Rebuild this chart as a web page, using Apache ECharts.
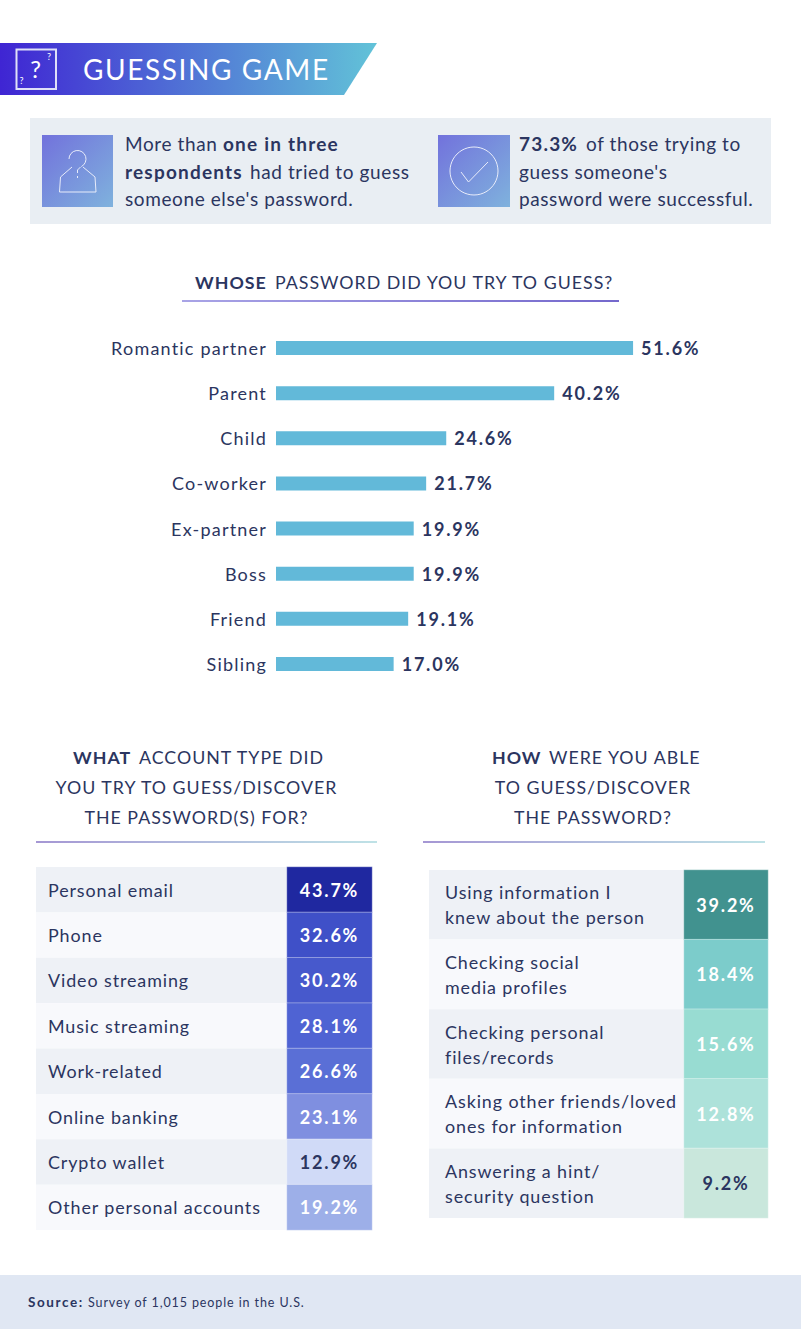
<!DOCTYPE html>
<html>
<head>
<meta charset="utf-8">
<title>Guessing Game</title>
<script src="https://cdn.jsdelivr.net/npm/echarts@6/dist/echarts.min.js"></script>
<style>
	html, body { margin: 0; padding: 0; background: #fff; }
	#main { width: 801px; height: 1329px; }
	/* echarts has no tracking option, the svg text takes it from css */
	#main text { letter-spacing: 1px; }
	#main text[style*="28px"] { letter-spacing: 1.6px; }
	#main text[style*="19px"] { letter-spacing: 0.6px; }
	#main text[style*="19px"][style*="700"], #main text[style*="bold"][style*="19px"] { letter-spacing: 1.2px; }
	#main text[style*="18px"] { letter-spacing: 1.2px; }
	#main text[style*="17.9px"] { letter-spacing: 0.9px; }
	#main text[style*="18px"][style*="700"], #main text[style*="bold"][style*="18px"] { letter-spacing: 1.8px; }
	#main text[style*="12.5px"] { letter-spacing: 0.9px; }
	#main text[style*="13.5px"] { letter-spacing: 1.6px; }
</style>
</head>
<body>
<div id="main"></div>
<script>
	var whoNames = ['Romantic partner', 'Parent', 'Child', 'Co-worker', 'Ex-partner', 'Boss', 'Friend', 'Sibling'];
	var whoValues = [51.6, 40.2, 24.6, 21.7, 19.9, 19.9, 19.1, 17.0];

	var accountNames = ['Personal email', 'Phone', 'Video streaming', 'Music streaming', 'Work-related', 'Online banking', 'Crypto wallet', 'Other personal accounts'];
	var accountValues = [43.7, 32.6, 30.2, 28.1, 26.6, 23.1, 12.9, 19.2];
	var accountColors = ['#1f28a0', '#3f50c8', '#4759cc', '#4f63d3', '#5a6fd6', '#7f8fe0', '#d0daf7', '#9dafe8'];

	var methodNames = ['Using information I\nknew about the person', 'Checking social\nmedia profiles', 'Checking personal\nfiles/records', 'Asking other friends/loved\nones for information', 'Answering a hint/\nsecurity question'];
	var methodValues = [39.2, 18.4, 15.6, 12.8, 9.2];
	var methodColors = ['#41928f', '#7ccccb', '#98dcd2', '#ade2da', '#c9e7dc'];

	var FONT = 'Lato';
	var NAVY = '#2b3560';
	var ICON = '#e8ecfa';

	var chart = echarts.init(document.getElementById('main'), null, {renderer: 'svg'});

	function txt(str, x, y, size, bold, color, align)
	{
		return {
			type: 'text',
			style: {
				x: x, y: y, text: str,
				fontFamily: FONT, fontSize: size, fontWeight: bold ? 700 : 400,
				fill: color || NAVY, align: align || 'left', verticalAlign: 'middle'
			}
		};
	}
	function grad(x2, y2, c1, c2)
	{
		return new echarts.graphic.LinearGradient(0, 0, x2, y2, [{offset: 0, color: c1}, {offset: 1, color: c2}]);
	}
	function rule(x, y, w, c1, c2)
	{
		return {type: 'rect', shape: {x: x, y: y, width: w, height: 2}, style: {fill: grad(1, 0, c1, c2)}};
	}
	function outline(points)
	{
		return {type: 'polyline', shape: {points: points}, style: {fill: 'none', stroke: ICON, lineWidth: 1}};
	}

	var decor = [
		// header
		{type: 'polygon', shape: {points: [[0, 43], [377, 43], [344, 95], [0, 95]]}, style: {fill: grad(1, 0, '#3f25d3', '#62c3d8')}},
		{type: 'rect', shape: {x: 16.5, y: 49.5, width: 39.5, height: 39.5}, style: {fill: 'none', stroke: '#dfe0f8', lineWidth: 2}},
		txt('?', 36, 68, 24, false, '#fff', 'center'),
		txt('?', 49.5, 56, 9, false, '#fff', 'center'),
		txt('?', 22, 80, 9, false, '#fff', 'center'),
		txt('GUESSING GAME', 83, 69, 28, false, '#fff'),

		// info panel
		{type: 'rect', shape: {x: 30, y: 118, width: 741, height: 106}, style: {fill: '#e9eef3'}},
		{type: 'rect', shape: {x: 42, y: 135, width: 71, height: 72}, style: {fill: grad(1, 1, '#7272dc', '#7fb2dd')}},
		{type: 'rect', shape: {x: 438, y: 135, width: 72, height: 72}, style: {fill: grad(1, 1, '#7272dc', '#7fb2dd')}},
		{type: 'arc', shape: {cx: 77.5, cy: 159, r: 8.5, startAngle: Math.PI, endAngle: Math.PI * 2.35, clockwise: true}, style: {fill: 'none', stroke: ICON, lineWidth: 1}},
		outline([[80.5, 167], [77.5, 170], [77.5, 173]]),
		outline([[77.5, 176], [77.5, 178]]),
		outline([[72, 167], [60.5, 177], [59.5, 192], [96, 192], [95, 177], [83, 167]]),
		{type: 'circle', shape: {cx: 474, cy: 171, r: 24}, style: {fill: 'none', stroke: ICON, lineWidth: 1}},
		outline([[461, 172], [468.5, 182], [488, 162]]),
		txt('More than', 125, 143, 19, false),
		txt('one in three', 223, 143, 19, true),
		txt('respondents', 125, 171, 19, true),
		txt('had tried to guess', 250, 171, 19, false),
		txt("someone else's password.", 125, 198, 19, false),
		txt('73.3%', 519, 143, 19, true),
		txt('of those trying to', 586, 143, 19, false),
		txt("guess someone's", 519, 171, 19, false),
		txt('password were successful.', 519, 198, 19, false),

		// section titles
		txt('WHOSE', 195, 282, 17.8, true),
		txt('PASSWORD DID YOU TRY TO GUESS?', 275, 282, 17.8, false),
		rule(182, 300, 437, '#a9a4e6', '#7468cc'),

		txt('WHAT', 73, 757, 17.8, true),
		txt('ACCOUNT TYPE DID', 139, 757, 17.8, false),
		txt('YOU TRY TO GUESS/DISCOVER', 196.5, 787, 17.8, false, NAVY, 'center'),
		txt('THE PASSWORD(S) FOR?', 196.5, 817, 17.8, false, NAVY, 'center'),
		rule(36, 841, 341, '#a597d4', '#bfe2e6'),

		txt('HOW', 492, 757, 17.8, true),
		txt('WERE YOU ABLE', 549, 757, 17.8, false),
		txt('TO GUESS/DISCOVER', 593, 787, 17.8, false, NAVY, 'center'),
		txt('THE PASSWORD?', 593, 817, 17.8, false, NAVY, 'center'),
		rule(423, 841, 342, '#a597d4', '#bfe2e6'),

		// footer
		{type: 'rect', shape: {x: 0, y: 1275, width: 801, height: 54}, style: {fill: '#e0e7f3'}},
		txt('Source:', 28, 1302, 13.5, true),
		txt('Survey of 1,015 people in the U.S.', 88, 1302, 12.5, false)
	];

	function labelAxis(gridIndex, names, margin)
	{
		return {
			gridIndex: gridIndex, type: 'category', inverse: true, data: names,
			axisLine: {show: false}, axisTick: {show: false},
			axisLabel: {inside: true, interval: 0, margin: margin, align: 'left', color: NAVY, fontFamily: FONT, fontSize: 17.9, lineHeight: 25},
			splitArea: {show: true, interval: 0, areaStyle: {color: ['#eef1f6', '#f8f9fc']}},
			splitLine: {show: false}
		};
	}
	function cellAxis(gridIndex, names)
	{
		return {
			gridIndex: gridIndex, type: 'category', inverse: true, data: names,
			axisLine: {show: false}, axisTick: {show: false}, axisLabel: {show: false}, splitLine: {show: false}
		};
	}
	function plainX(gridIndex)
	{
		return {
			gridIndex: gridIndex, type: 'category', data: [''],
			axisLine: {show: false}, axisTick: {show: false}, axisLabel: {show: false}, splitLine: {show: false}
		};
	}
	function cells(axisIndex, values, colors, darkFrom)
	{
		return {
			type: 'heatmap', xAxisIndex: axisIndex, yAxisIndex: axisIndex,
			data: values.map(function (v, i) {
				return {
					value: [0, i, v],
					itemStyle: {color: colors[i], borderColor: 'rgba(255,255,255,0.35)', borderWidth: 1},
					label: {color: colors[i] == darkFrom ? NAVY : '#fff'}
				};
			}),
			label: {
				show: true, fontFamily: FONT, fontSize: 18, fontWeight: 700,
				formatter: function (p) { return p.value[2].toFixed(1) + '%'; }
			},
			emphasis: {disabled: true}
		};
	}

	var option = {
		animation: false,
		backgroundColor: '#fff',
		graphic: {elements: decor},
		grid: [
			{left: 276, top: 325.5, width: 484.4, height: 361},
			{left: 36, top: 867, width: 251, height: 363},
			{left: 287, top: 867, width: 85, height: 363},
			{left: 429, top: 870, width: 255, height: 348},
			{left: 684, top: 870, width: 84, height: 348}
		],
		xAxis: [
			{gridIndex: 0, type: 'value', min: 0, max: 70, show: false},
			plainX(1), plainX(2), plainX(3), plainX(4)
		],
		yAxis: [
			{
				gridIndex: 0, type: 'category', inverse: true, data: whoNames,
				axisLine: {show: false}, axisTick: {show: false},
				axisLabel: {interval: 0, margin: 9, color: NAVY, fontFamily: FONT, fontSize: 18}
			},
			labelAxis(1, accountNames, 12), cellAxis(2, accountNames),
			labelAxis(3, methodNames, 16), cellAxis(4, methodNames)
		],
		series: [
			{
				type: 'bar', xAxisIndex: 0, yAxisIndex: 0, data: whoValues, barWidth: 14,
				itemStyle: {color: '#62b9d9'},
				label: {
					show: true, position: 'right', distance: 8, color: NAVY,
					fontFamily: FONT, fontSize: 18, fontWeight: 700,
					formatter: function (p) { return p.value.toFixed(1) + '%'; }
				}
			},
			cells(2, accountValues, accountColors, '#d0daf7'),
			cells(4, methodValues, methodColors, '#c9e7dc')
		]
	};
	chart.setOption(option);
</script>
</body>
</html>
